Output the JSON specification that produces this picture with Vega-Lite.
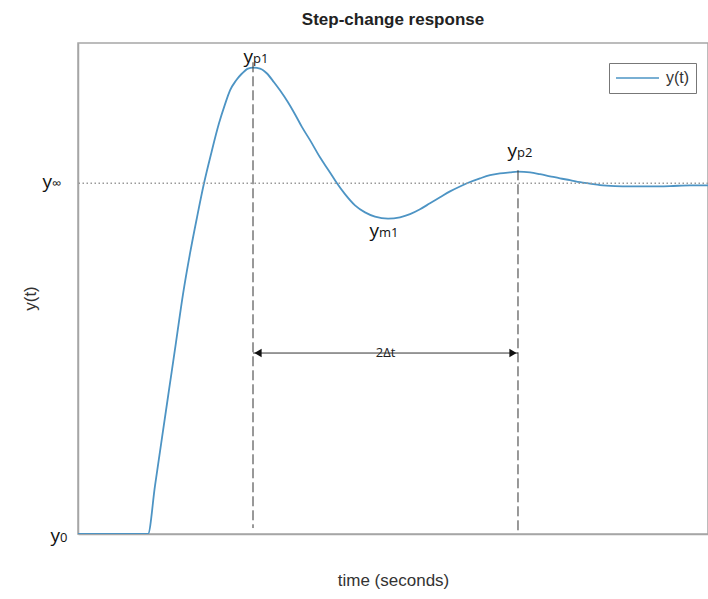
{
  "$schema": "https://vega.github.io/schema/vega-lite/v6.json",
  "autosize": "none",
  "width": 630,
  "height": 491,
  "padding": {"left": 78, "top": 43, "right": 0, "bottom": 65},
  "background": "white",
  "title": {"text": "Step-change response", "font": "Liberation Sans", "fontSize": 17, "fontWeight": "bold", "color": "#222222", "anchor": "middle", "offset": 14},
  "config": {
    "view": {"stroke": "#a6a6a6", "strokeWidth": 1.5},
    "axis": {"domainColor": "#a6a6a6", "domainWidth": 1.5, "ticks": false, "labels": false, "grid": false, "titleFont": "Liberation Sans", "titleFontSize": 17, "titleFontWeight": "normal", "titleColor": "#333333"}
  },
  "datasets": {
    "curve": [
      {"t": 0, "v": 0}, {"t": 1.111, "v": 0}, {"t": 1.222, "v": 0.137}, {"t": 1.333, "v": 0.274},
      {"t": 1.444, "v": 0.41}, {"t": 1.556, "v": 0.547}, {"t": 1.667, "v": 0.684}, {"t": 1.778, "v": 0.8},
      {"t": 1.889, "v": 0.903}, {"t": 2.0, "v": 1.0}, {"t": 2.111, "v": 1.083}, {"t": 2.238, "v": 1.171},
      {"t": 2.333, "v": 1.225}, {"t": 2.413, "v": 1.265}, {"t": 2.508, "v": 1.293}, {"t": 2.603, "v": 1.313},
      {"t": 2.698, "v": 1.327}, {"t": 2.778, "v": 1.33}, {"t": 2.889, "v": 1.327}, {"t": 3.0, "v": 1.313},
      {"t": 3.111, "v": 1.288}, {"t": 3.206, "v": 1.265}, {"t": 3.333, "v": 1.231}, {"t": 3.444, "v": 1.197},
      {"t": 3.556, "v": 1.16}, {"t": 3.683, "v": 1.123}, {"t": 3.841, "v": 1.074}, {"t": 4.0, "v": 1.031},
      {"t": 4.111, "v": 1.0}, {"t": 4.238, "v": 0.969}, {"t": 4.397, "v": 0.937}, {"t": 4.556, "v": 0.917},
      {"t": 4.714, "v": 0.905}, {"t": 4.921, "v": 0.899}, {"t": 5.111, "v": 0.903}, {"t": 5.27, "v": 0.912},
      {"t": 5.429, "v": 0.926}, {"t": 5.587, "v": 0.943}, {"t": 5.746, "v": 0.96}, {"t": 5.905, "v": 0.977},
      {"t": 6.063, "v": 0.991}, {"t": 6.175, "v": 1.0}, {"t": 6.381, "v": 1.014}, {"t": 6.54, "v": 1.023},
      {"t": 6.698, "v": 1.028}, {"t": 6.857, "v": 1.031}, {"t": 6.984, "v": 1.033}, {"t": 7.175, "v": 1.031},
      {"t": 7.333, "v": 1.026}, {"t": 7.492, "v": 1.02}, {"t": 7.651, "v": 1.014}, {"t": 7.81, "v": 1.009},
      {"t": 7.968, "v": 1.003}, {"t": 8.127, "v": 0.999}, {"t": 8.286, "v": 0.995}, {"t": 8.524, "v": 0.992},
      {"t": 8.762, "v": 0.991}, {"t": 9.079, "v": 0.991}, {"t": 9.397, "v": 0.992}, {"t": 9.714, "v": 0.994},
      {"t": 10.0, "v": 0.994}
    ],
    "peaks": [
      {"t": 2.778, "top": 1.345, "bottom": 0.017},
      {"t": 6.984, "top": 1.037, "bottom": 0.009}
    ],
    "span": [{"t1": 2.778, "t2": 6.984, "v": 0.516, "mid": 4.881, "label": "2Δt"}],
    "labels": [
      {"t": 2.778, "v": 1.342, "main": "y", "sub": "p1"},
      {"t": 4.778, "v": 0.846, "main": "y", "sub": "m1"},
      {"t": 6.968, "v": 1.074, "main": "y", "sub": "p2"},
      {"t": -0.413, "v": 0.986, "main": "y", "sub": "∞"},
      {"t": -0.286, "v": -0.023, "main": "y", "sub": "0"}
    ]
  },
  "layer": [
    {
      "data": {"name": "curve"},
      "transform": [{"calculate": "'y(t)'", "as": "series"}],
      "mark": {"type": "line", "strokeWidth": 1.8, "clip": true, "interpolate": "monotone"},
      "encoding": {
        "x": {"field": "t", "type": "quantitative", "scale": {"domain": [0, 10], "nice": false, "zero": false}, "axis": {"title": "time (seconds)", "titleX": 315, "titleY": 46, "titleBaseline": "middle"}},
        "y": {"field": "v", "type": "quantitative", "scale": {"domain": [0, 1.4], "nice": false, "zero": false}, "axis": {"title": "y(t)", "titleX": -48, "titleY": 255, "titleAngle": -90, "titleBaseline": "middle", "titleAlign": "center"}},
        "color": {"field": "series", "type": "nominal", "scale": {"domain": ["y(t)"], "range": ["#4d94c4"]},
          "legend": {"title": null, "orient": "none", "legendX": 531, "legendY": 20, "symbolType": "stroke", "symbolSize": 1849, "symbolStrokeWidth": 1.5, "clipHeight": 18, "labelFont": "Liberation Sans", "labelFontSize": 16, "labelColor": "#333333", "labelOffset": 6, "padding": 6, "strokeColor": "#777777", "fillColor": "white"}}
      }
    },
    {
      "data": {"values": [{"v": 1}]},
      "mark": {"type": "rule", "color": "#999999", "strokeWidth": 1.5, "strokeDash": [1.5, 2.5]},
      "encoding": {
        "y": {"field": "v", "type": "quantitative", "scale": {"domain": [0, 1.4], "nice": false, "zero": false}}
      }
    },
    {
      "data": {"name": "peaks"},
      "mark": {"type": "rule", "color": "#333333", "strokeWidth": 1, "strokeDash": [10, 4]},
      "encoding": {
        "x": {"field": "t", "type": "quantitative", "scale": {"domain": [0, 10], "nice": false, "zero": false}},
        "y": {"field": "top", "type": "quantitative", "scale": {"domain": [0, 1.4], "nice": false, "zero": false}},
        "y2": {"field": "bottom"}
      }
    },
    {
      "data": {"name": "span"},
      "mark": {"type": "rule", "color": "#333333", "strokeWidth": 1},
      "encoding": {
        "x": {"field": "t1", "type": "quantitative", "scale": {"domain": [0, 10], "nice": false, "zero": false}},
        "x2": {"field": "t2"},
        "y": {"field": "v", "type": "quantitative", "scale": {"domain": [0, 1.4], "nice": false, "zero": false}}
      }
    },
    {
      "data": {"name": "span"},
      "mark": {"type": "point", "shape": "triangle-left", "filled": true, "color": "#111111", "size": 70, "xOffset": 5, "opacity": 1},
      "encoding": {
        "x": {"field": "t1", "type": "quantitative", "scale": {"domain": [0, 10], "nice": false, "zero": false}},
        "y": {"field": "v", "type": "quantitative", "scale": {"domain": [0, 1.4], "nice": false, "zero": false}}
      }
    },
    {
      "data": {"name": "span"},
      "mark": {"type": "point", "shape": "triangle-right", "filled": true, "color": "#111111", "size": 70, "xOffset": -5, "opacity": 1},
      "encoding": {
        "x": {"field": "t2", "type": "quantitative", "scale": {"domain": [0, 10], "nice": false, "zero": false}},
        "y": {"field": "v", "type": "quantitative", "scale": {"domain": [0, 1.4], "nice": false, "zero": false}}
      }
    },
    {
      "data": {"name": "span"},
      "mark": {"type": "text", "font": "Open Sans", "fontSize": 13, "color": "#222222", "align": "center", "baseline": "middle"},
      "encoding": {
        "x": {"field": "mid", "type": "quantitative", "scale": {"domain": [0, 10], "nice": false, "zero": false}},
        "y": {"field": "v", "type": "quantitative", "scale": {"domain": [0, 1.4], "nice": false, "zero": false}},
        "text": {"field": "label"}
      }
    },
    {
      "data": {"name": "labels"},
      "mark": {"type": "text", "font": "Open Sans", "fontSize": 19, "color": "#111111", "align": "right", "baseline": "alphabetic"},
      "encoding": {
        "x": {"field": "t", "type": "quantitative", "scale": {"domain": [0, 10], "nice": false, "zero": false}},
        "y": {"field": "v", "type": "quantitative", "scale": {"domain": [0, 1.4], "nice": false, "zero": false}},
        "text": {"field": "main"}
      }
    },
    {
      "data": {"name": "labels"},
      "mark": {"type": "text", "font": "Open Sans", "fontSize": 13, "color": "#111111", "align": "left", "baseline": "alphabetic"},
      "encoding": {
        "x": {"field": "t", "type": "quantitative", "scale": {"domain": [0, 10], "nice": false, "zero": false}},
        "y": {"field": "v", "type": "quantitative", "scale": {"domain": [0, 1.4], "nice": false, "zero": false}},
        "text": {"field": "sub"}
      }
    }
  ]
}
